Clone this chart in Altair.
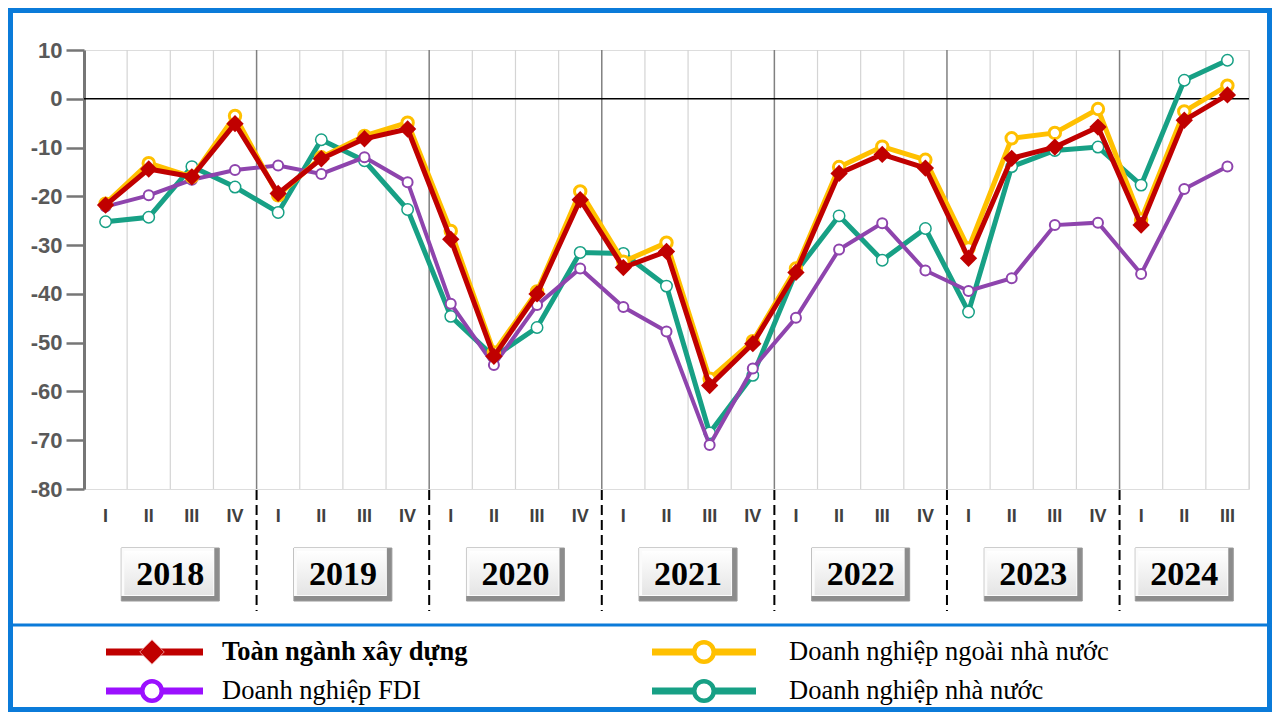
import altair as alt
import pandas as pd

# ---------------- data ----------------
quarter_labels = ["I", "II", "III", "IV"] * 6 + ["I", "II", "III"]
years = ["2018", "2019", "2020", "2021", "2022", "2023", "2024"]
quarters_per_year = [4, 4, 4, 4, 4, 4, 3]

series_names = [
    "Toàn ngành xây dựng",
    "Doanh nghiệp ngoài nhà nước",
    "Doanh nghiệp FDI",
    "Doanh nghiệp nhà nước",
]

toan_nganh = [-21.8, -14.4, -16.0, -5.1, -19.4, -12.3, -8.2, -6.2,
              -28.8, -52.8, -40.0, -20.7, -34.6, -31.3, -58.8, -50.2,
              -35.6, -15.3, -11.4, -14.2, -32.7, -12.2, -9.9, -5.8,
              -25.9, -4.4, 0.8]
ngoai_nha_nuoc = [-21.5, -13.2, -16.0, -3.5, -19.8, -12.0, -7.6, -4.9,
                  -27.1, -52.0, -39.5, -19.0, -33.4, -29.5, -57.4, -49.7,
                  -34.8, -14.0, -9.8, -12.5, -30.7, -8.1, -7.0, -2.1,
                  -24.8, -2.6, 2.7]
fdi = [-22.1, -19.8, -16.6, -14.6, -13.7, -15.4, -12.0, -17.1,
       -42.0, -54.6, -42.3, -34.8, -42.7, -47.7, -71.0, -55.3,
       -44.9, -30.9, -25.5, -35.2, -39.4, -36.8, -25.9, -25.4,
       -35.9, -18.5, -13.9]
nha_nuoc = [-25.2, -24.3, -13.9, -18.1, -23.3, -8.4, -12.7, -22.7,
            -44.6, -52.9, -46.9, -31.5, -31.7, -38.4, -68.5, -56.7,
            -35.5, -24.0, -33.1, -26.6, -43.7, -13.9, -10.6, -9.9,
            -17.7, 3.8, 7.9]

y_ticks = [10, 0, -10, -20, -30, -40, -50, -60, -70, -80]

# ---------------- layout / style ----------------
W, H = 1165, 439
PAD_L, PAD_T, PAD_R, PAD_B = 76, 42, 23, 223
BLUE = "#0b7bd9"
C_RED, C_YEL, C_PUR, C_TEAL = "#c00000", "#ffc000", "#8e44ad", "#17a085"
C_PUR_LEG = "#9b10ff"
SERIF = "Liberation Serif, Times New Roman, serif"
SANS = "Liberation Sans, Arial, sans-serif"
NARROW = "Liberation Sans Narrow, Arial Narrow, Liberation Sans, sans-serif"

n = len(quarter_labels)

# tables built from the arrays above
df_series = pd.DataFrame({
    "pos": [i + 0.5 for i in range(n)],
    "tn": toan_nganh, "nnn": ngoai_nha_nuoc, "fdi": fdi, "nn": nha_nuoc,
    "q": quarter_labels,
})

starts = []
acc = 0
for q in quarters_per_year:
    starts.append(acc)
    acc += q
df_years = pd.DataFrame({
    "year": years,
    "center": [s + q / 2 for s, q in zip(starts, quarters_per_year)],
})
df_bounds = pd.DataFrame({"b": starts[1:]})
df_grid = pd.DataFrame({"g": [i for i in range(1, n + 1) if i not in starts]})
one = pd.DataFrame({"a": [0]})

xs = alt.Scale(domain=[0, n], nice=False, zero=False)
ys = alt.Scale(domain=[-80, 10], nice=False, zero=False)
y_axis = alt.Axis(values=y_ticks, title=None, labelFont=SANS, labelFontWeight="bold",
                  labelFontSize=22, labelColor="#595959", labelPadding=4,
                  labelExpr="toString(datum.value)",
                  tickSize=18, tickColor="#767676", tickWidth=2.5,
                  domainColor="#767676", domainWidth=3,
                  gridColor="#d4d4d4", gridWidth=1.2)


def X(field):
    return alt.X(field, type="quantitative", scale=xs, axis=None)


def Y(field):
    return alt.Y(field, type="quantitative", scale=ys, axis=y_axis)


layers = []

# vertical light grid lines
layers.append(alt.Chart(df_grid).mark_rule(color="#d4d4d4", strokeWidth=1.2).encode(
    x=X("g"), y=alt.value(0), y2=alt.value(H)))
# year boundary lines inside plot
layers.append(alt.Chart(df_bounds).mark_rule(color="#808080", strokeWidth=1.5).encode(
    x=X("b"), y=alt.value(0), y2=alt.value(H)))
# dashed separators below plot
layers.append(alt.Chart(df_bounds).mark_rule(color="black", strokeWidth=2, strokeDash=[10, 5]).encode(
    x=X("b"), y=alt.value(H + 1), y2=alt.value(H + 122)))
# zero line
layers.append(alt.Chart(one).mark_rule(color="black", strokeWidth=1.5).encode(
    y=alt.Y(datum=0, type="quantitative", scale=ys, axis=y_axis),
    x=alt.value(0), x2=alt.value(W)))

base = alt.Chart(df_series)
# Nhà nước (teal)
layers.append(base.mark_line(color=C_TEAL, strokeWidth=5).encode(x=X("pos"), y=Y("nn")))
layers.append(base.mark_point(shape="circle", filled=True, fill="white", stroke=C_TEAL,
                              strokeWidth=1.5, size=130, opacity=1).encode(x=X("pos"), y=Y("nn")))
# FDI (purple)
layers.append(base.mark_line(color=C_PUR, strokeWidth=4).encode(x=X("pos"), y=Y("fdi")))
layers.append(base.mark_point(shape="circle", filled=True, fill="white", stroke=C_PUR,
                              strokeWidth=2, size=100, opacity=1).encode(x=X("pos"), y=Y("fdi")))
# Ngoài nhà nước (yellow)
layers.append(base.mark_line(color=C_YEL, strokeWidth=5).encode(x=X("pos"), y=Y("nnn")))
layers.append(base.mark_point(shape="circle", filled=True, fill="white", stroke=C_YEL,
                              strokeWidth=3, size=130, opacity=1).encode(x=X("pos"), y=Y("nnn")))
# Toàn ngành (red)
layers.append(base.mark_line(color=C_RED, strokeWidth=5).encode(x=X("pos"), y=Y("tn")))
layers.append(base.mark_point(shape="diamond", filled=True, color=C_RED, size=300, opacity=1).encode(
    x=X("pos"), y=Y("tn")))

# quarter labels
layers.append(base.mark_text(font=NARROW, fontWeight="bold", fontSize=18, color="#404040",
                             baseline="middle", align="center").encode(
    x=X("pos"), y=alt.value(467), text="q:N"))

# year boxes (bevel look)
yb = alt.Chart(df_years)
layers.append(yb.mark_rect(xOffset=-49, x2Offset=49, fill="#8c8c8c", stroke="#9a9a9a", strokeWidth=1).encode(
    x=X("center"), x2="center:Q", y=alt.value(498), y2=alt.value(551)))
layers.append(yb.mark_rect(xOffset=-49, x2Offset=44, fill="#fbfbfb").encode(
    x=X("center"), x2="center:Q", y=alt.value(498), y2=alt.value(546)))
layers.append(yb.mark_rect(xOffset=-46, x2Offset=43,
                           fill=alt.Gradient(gradient="linear", x1=0, y1=0, x2=0, y2=1,
                                             stops=[alt.GradientStop(color="#ffffff", offset=0),
                                                    alt.GradientStop(color="#e4e4e4", offset=1)])).encode(
    x=X("center"), x2="center:Q", y=alt.value(501), y2=alt.value(545)))
layers.append(yb.mark_text(font=SERIF, fontWeight="bold", fontSize=34, color="black",
                           baseline="middle", align="center", dy=1).encode(
    x=X("center"), y=alt.value(524), text="year:N"))

# frame and separator
layers.append(alt.Chart(one).mark_rect(fillOpacity=0, stroke=BLUE, strokeWidth=5).encode(
    x=alt.value(-PAD_L + 2.5), x2=alt.value(W + PAD_R - 2.5),
    y=alt.value(-PAD_T + 2.5), y2=alt.value(H + PAD_B - 2.5)))
layers.append(alt.Chart(one).mark_rule(color=BLUE, strokeWidth=3).encode(
    x=alt.value(-PAD_L), x2=alt.value(W + PAD_R), y=alt.value(575)))

# legend (manual)
legend_items = [
    (series_names[0], C_RED, "diamond", 22, 119, 68, 138, 602, "bold"),
    (series_names[2], C_PUR_LEG, "circle", 22, 119, 68, 138, 641, "normal"),
    (series_names[1], C_YEL, "circle", 568, 672, 620, 705, 602, "normal"),
    (series_names[3], C_TEAL, "circle", 568, 672, 620, 705, 641, "normal"),
]
for name, col, shape, lx1, lx2, mx, tx, ly, fw in legend_items:
    leg = alt.Chart(pd.DataFrame({"name": [name]}))
    layers.append(leg.mark_rule(color=col, strokeWidth=7).encode(
        x=alt.value(lx1), x2=alt.value(lx2), y=alt.value(ly)))
    if shape == "diamond":
        layers.append(leg.mark_point(shape="diamond", filled=True, fill=col, stroke="#f0b0b0",
                                     strokeWidth=0.8, size=600, opacity=1).encode(
            x=alt.value(mx), y=alt.value(ly)))
    else:
        layers.append(leg.mark_point(shape="circle", filled=True, fill="white", stroke=col,
                                     strokeWidth=4.5, size=380, opacity=1).encode(
            x=alt.value(mx), y=alt.value(ly)))
    layers.append(leg.mark_text(font=SERIF, fontWeight=fw, fontSize=26.5, color="black",
                                align="left", baseline="middle").encode(
        x=alt.value(tx), y=alt.value(ly), text="name:N"))

chart = alt.layer(*layers).properties(
    width=W, height=H,
    padding={"left": PAD_L, "top": PAD_T, "right": PAD_R, "bottom": PAD_B},
    autosize=alt.AutoSizeParams(type="none"),
).configure_view(stroke=None).configure(background="white")

chart.save("out.html", embed_options={"renderer": "svg", "actions": False})
